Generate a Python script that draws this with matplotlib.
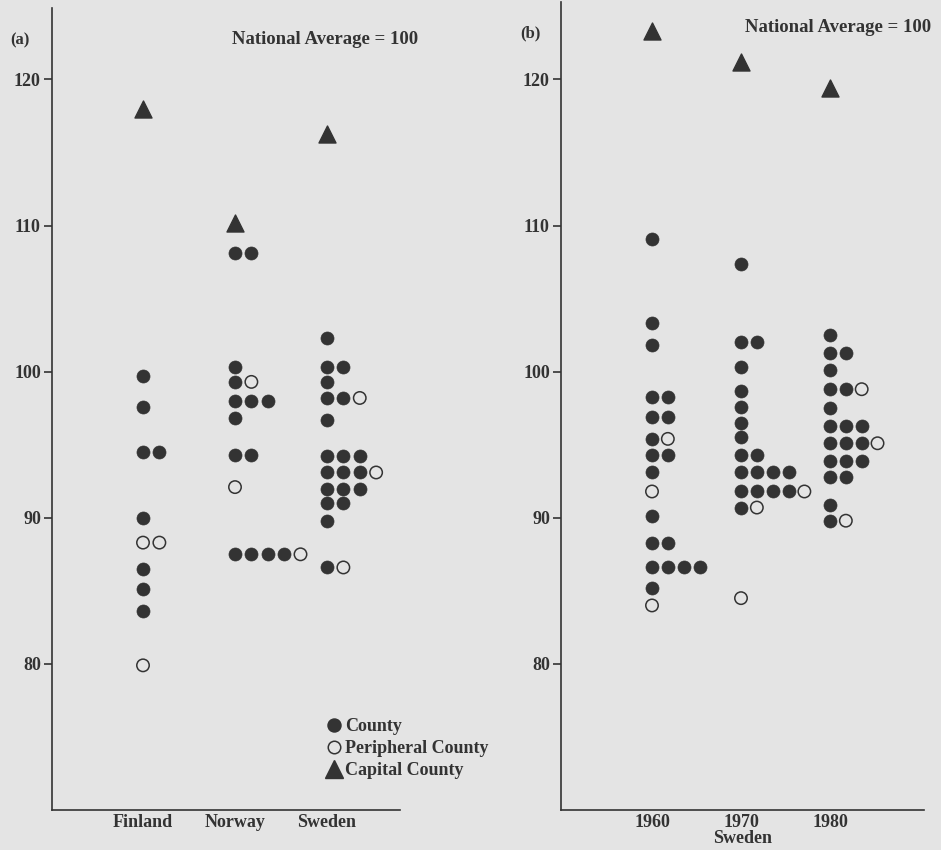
import matplotlib
matplotlib.use('Agg')
import matplotlib.pyplot as plt
from matplotlib.lines import Line2D

plt.rcParams['font.family'] = ['Liberation Serif', 'DejaVu Serif']
plt.rcParams['font.weight'] = 'bold'
plt.rcParams['axes.labelweight'] = 'bold'

# panel (a): regional index per county, national average = 100
countries = ['Finland', 'Norway', 'Sweden']
finland_county = [99.7, 97.6, 94.5, 94.5, 90.0, 86.5, 85.1, 83.6]
finland_peripheral = [88.3, 88.3, 79.9]
finland_capital = 118.0
norway_county = [108.1, 108.1, 100.3, 99.3, 98.0, 98.0, 98.0, 96.8, 94.3, 94.3,
                 87.5, 87.5, 87.5, 87.5]
norway_peripheral = [99.3, 92.1, 87.5]
norway_capital = 110.2
sweden_county = [102.3, 100.3, 100.3, 99.3, 98.2, 98.2, 96.7, 94.2, 94.2, 94.2,
                 93.1, 93.1, 93.1, 92.0, 92.0, 92.0, 91.0, 91.0, 89.8, 86.6]
sweden_peripheral = [98.2, 93.1, 86.6]
sweden_capital = 116.3

# panel (b): Sweden over time
years = ['1960', '1970', '1980']
s1960_county = [109.1, 103.3, 101.8, 98.3, 98.3, 96.9, 96.9, 95.4, 94.3, 94.3,
                93.1, 90.1, 88.3, 88.3, 86.6, 86.6, 86.6, 86.6, 85.2]
s1960_peripheral = [95.4, 91.8, 84.0]
s1960_capital = 123.3
s1970_county = [107.4, 102.0, 102.0, 100.3, 98.7, 97.6, 96.5, 95.5, 94.3, 94.3,
                93.1, 93.1, 93.1, 93.1, 91.8, 91.8, 91.8, 91.8, 90.7]
s1970_peripheral = [91.8, 90.7, 84.5]
s1970_capital = 121.2
s1980_county = [102.5, 101.3, 101.3, 100.1, 98.8, 98.8, 97.5, 96.3, 96.3, 96.3,
                95.1, 95.1, 95.1, 93.9, 93.9, 93.9, 92.8, 92.8, 90.9, 89.8]
s1980_peripheral = [98.8, 95.1, 89.8]
s1980_capital = 119.4

BG = '#e4e4e4'
INK = '#333333'
STEP = 0.178


def stack(pos, county, peripheral):
    # same value -> side by side, filled dots first, open ones to the right
    seen = {}
    out = {'c': ([], []), 'p': ([], [])}
    for kind, vals in (('c', county), ('p', peripheral)):
        for v in vals:
            k = seen.get(v, 0)
            seen[v] = k + 1
            out[kind][0].append(pos + k * STEP)
            out[kind][1].append(v)
    return out


def draw(ax, groups, labels):
    for i, (county, peripheral, capital) in enumerate(groups):
        pos = i + 1
        s = stack(pos, county, peripheral)
        ax.scatter(*s['c'], s=88, color=INK, edgecolors=INK, linewidths=0.5, clip_on=False)
        ax.scatter(*s['p'], s=80, facecolors='none', edgecolors=INK, linewidths=1.1, clip_on=False)
        ax.scatter([pos], [capital], s=150, marker='^', color=INK, clip_on=False)
    ax.set_xticks(range(1, len(labels) + 1))
    ax.set_xticklabels(labels)
    ax.set_yticks([80, 90, 100, 110, 120])
    ax.set_ylim(70, 125.3)
    ax.set_facecolor(BG)
    for side in ('top', 'right'):
        ax.spines[side].set_visible(False)
    for side in ('left', 'bottom'):
        ax.spines[side].set_color(INK)
        ax.spines[side].set_linewidth(1.2)
    ax.tick_params(axis='y', direction='out', length=6, width=1.2, color=INK,
                   labelsize=13, labelcolor=INK, pad=2)
    ax.tick_params(axis='x', length=0, labelsize=13, labelcolor=INK, pad=3)


fig = plt.figure(figsize=(9.41, 8.5), dpi=100, facecolor=BG)
W, H = 941, 850

ax1 = fig.add_axes([52 / W, 40 / H, (400 - 52) / W, (810 - 2) / H])
draw(ax1, [(finland_county, finland_peripheral, finland_capital),
           (norway_county, norway_peripheral, norway_capital),
           (sweden_county, sweden_peripheral, sweden_capital)], countries)
ax1.set_xlim(1 - 91 / 92, 3 + 73 / 92)
ax1.spines['left'].set_bounds(70, 124.9)

ax2 = fig.add_axes([561 / W, 40 / H, (924 - 561) / W, (810 - 2) / H])
draw(ax2, [(s1960_county, s1960_peripheral, s1960_capital),
           (s1970_county, s1970_peripheral, s1970_capital),
           (s1980_county, s1980_peripheral, s1980_capital)], years)
ax2.set_xlim(1 - 91 / 89, 3 + 94 / 89)
ax2.set_xlabel('Sweden', fontsize=13, color=INK, labelpad=-1)

fig.text(10 / W, 1 - 40 / H, '(a)', fontsize=12, color=INK, va='center')
fig.text(520 / W, 1 - 33 / H, '(b)', fontsize=12, color=INK, va='center')
fig.text(325 / W, 1 - 40 / H, 'National Average = 100', fontsize=13.5, color=INK,
         ha='center', va='center')
fig.text(838 / W, 1 - 27 / H, 'National Average = 100', fontsize=13.5, color=INK,
         ha='center', va='center')

handles = [
    Line2D([], [], marker='o', ls='none', ms=9.4, color=INK),
    Line2D([], [], marker='o', ls='none', ms=9.0, mfc='none', mec=INK, mew=1.1),
    Line2D([], [], marker='^', ls='none', ms=13, color=INK),
]
leg = fig.legend(handles, ['County', 'Peripheral County', 'Capital County'],
                 loc='upper left', bbox_to_anchor=(316 / W, 1 - 709 / H),
                 frameon=False, fontsize=13, handletextpad=0.1,
                 handlelength=1.0, labelspacing=0.28, borderpad=0)
for t in leg.get_texts():
    t.set_color(INK)

fig.savefig('out.png', dpi=100, facecolor=BG)
